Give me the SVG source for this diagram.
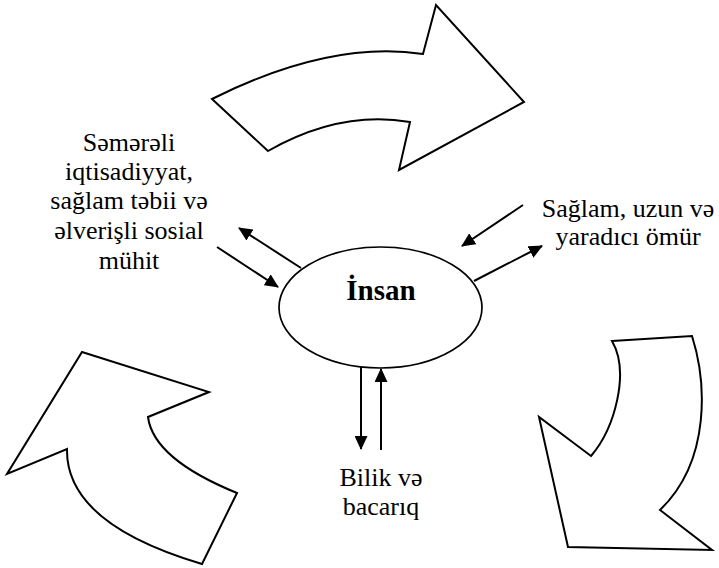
<svg xmlns="http://www.w3.org/2000/svg" width="719" height="568" viewBox="0 0 719 568">
  <style>
    .bigarrow { fill: #fff; stroke: #000; stroke-width: 2; stroke-linejoin: miter; }
    .node { fill: #fff; stroke: #000; stroke-width: 1.7; }
    text { font-family: 'Liberation Serif', Tinos, 'Times New Roman', 'DejaVu Serif', serif; fill: #000; text-anchor: middle; }
    .lbl { font-size: 26px; }
    .title { font-size: 29px; font-weight: bold; }
    .conn { stroke: #000; stroke-width: 2; fill: none; marker-end: url(#ah); }
  </style>
  <defs>
    <marker id="ah" markerUnits="userSpaceOnUse" markerWidth="15" markerHeight="13" refX="13" refY="6.5" orient="auto">
      <path d="M0,0 L14,6.5 L0,13 Z" fill="#000"/>
    </marker>
  </defs>
  <rect width="719" height="568" fill="#fff"/>

  <g id="cycle-arrows">
    <path id="arrow-top" class="bigarrow" d="M212,99 Q330,40 423,54 L436,5 L524,102 L399,170 L410,122 Q340,110 268,151 Z"/>
    <path id="arrow-right" class="bigarrow" d="M612,341 L692,336 C706,380 712,460 660,510 L712,550 L568,547 L539,417 L591,456 C615,428 630,372 612,341 Z"/>
    <path id="arrow-left" class="bigarrow" d="M82,352 L209,392 L148,417 Q153.5,459 237,493 L202,564 Q65.5,523.5 67,449 L7,474 Z"/>
  </g>

  <g id="connectors">
    <line class="conn" x1="301" y1="268" x2="239" y2="228"/>
    <line class="conn" x1="217" y1="247" x2="278" y2="287"/>
    <line class="conn" x1="523" y1="205" x2="462" y2="246"/>
    <line class="conn" x1="474" y1="281" x2="542" y2="246"/>
    <line class="conn" x1="361" y1="367" x2="361" y2="449"/>
    <line class="conn" x1="381" y1="450" x2="381" y2="369"/>
  </g>

  <g id="insan">
    <ellipse class="node" cx="380.5" cy="307.5" rx="101.5" ry="60.5"/>
    <text class="title" x="381" y="300">İnsan</text>
  </g>

  <g id="label-left">
    <text class="lbl" x="129" y="151">Səmərəli</text>
    <text class="lbl" x="129" y="180">iqtisadiyyat,</text>
    <text class="lbl" x="129" y="209">sağlam təbii və</text>
    <text class="lbl" x="129" y="239">əlverişli sosial</text>
    <text class="lbl" x="129" y="269">mühit</text>
  </g>

  <g id="label-right">
    <text class="lbl" x="628" y="217">Sağlam, uzun və</text>
    <text class="lbl" x="628" y="245">yaradıcı ömür</text>
  </g>

  <g id="label-bottom">
    <text class="lbl" x="381" y="486">Bilik və</text>
    <text class="lbl" x="381" y="515">bacarıq</text>
  </g>
</svg>
